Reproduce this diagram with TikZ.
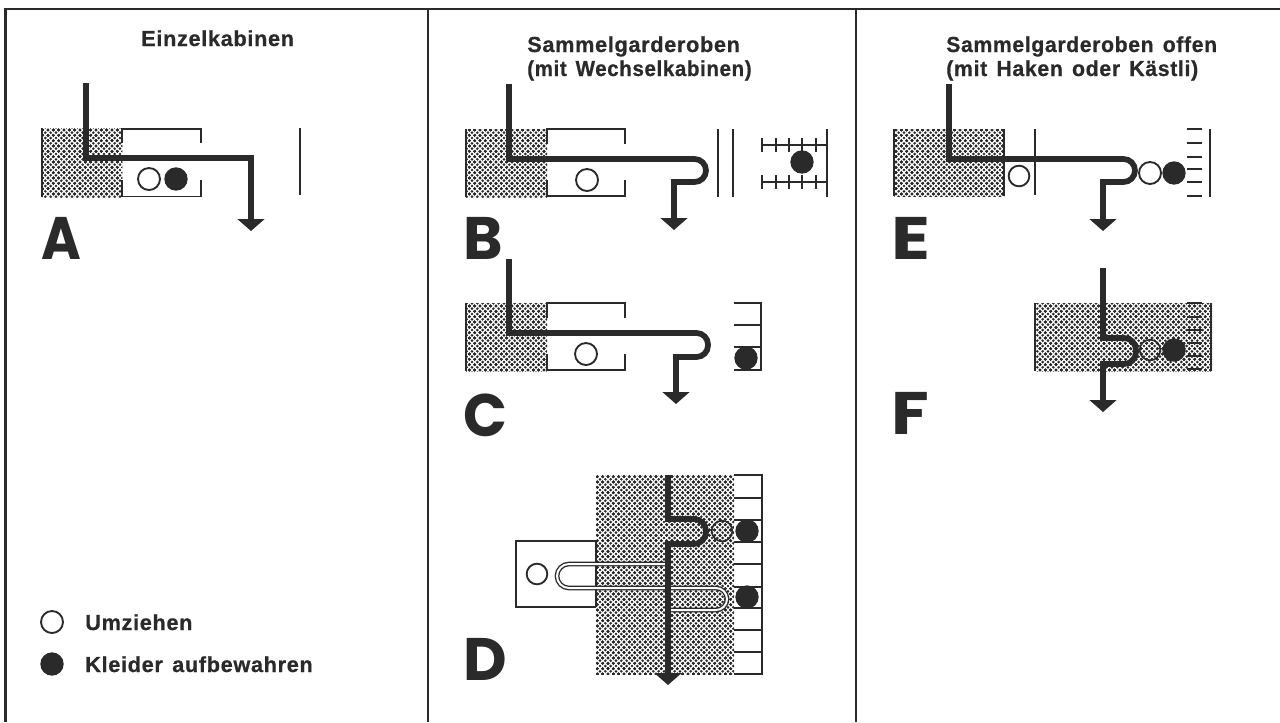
\documentclass[tikz,border=0pt]{standalone}
\usepackage{fontspec}
\setmainfont{Liberation Sans}[LetterSpace=3,WordSpace=1.4,BoldFeatures={FakeBold=0.6}]
\newfontfamily\letterfont{Poppins}[BoldFont={Poppins Bold}]
\usetikzlibrary{arrows.meta,patterns}
\definecolor{ink}{HTML}{2A2A2A}
\pgfdeclarepatternformonly{stip}{\pgfqpoint{-1.5pt}{-1.5pt}}{\pgfqpoint{5.5pt}{5.5pt}}{\pgfqpoint{4pt}{4pt}}{%
  \pgfpathcircle{\pgfqpoint{0pt}{0pt}}{1.1pt}
  \pgfpathcircle{\pgfqpoint{2pt}{2pt}}{1.1pt}
  \pgfpathcircle{\pgfqpoint{4pt}{0pt}}{1.1pt}
  \pgfpathcircle{\pgfqpoint{0pt}{4pt}}{1.1pt}
  \pgfpathcircle{\pgfqpoint{4pt}{4pt}}{1.1pt}
  \pgfusepath{fill}}
\tikzset{
  stipple/.style={pattern=stip,pattern color=ink,draw=none},
  frameline/.style={draw=ink,line width=1.6pt},
  wall/.style={draw=ink,line width=1.3pt,line cap=butt},
  edge line/.style={draw=ink,line width=1.6pt},
  route/.style={draw=ink,line width=4.3pt,line join=miter,-{Triangle[width=20pt,length=9pt]}},
  routeplain/.style={draw=ink,line width=4.3pt,line join=miter},
  dbl/.style={draw=ink,line width=1pt,double=white,double distance=1.5pt},
  opencirc/.style={circle,draw=ink,fill=white,line width=1.4pt,minimum size=16.5pt,inner sep=0pt},
  opencircs/.style={circle,draw=ink,line width=1.2pt,minimum size=15.5pt,inner sep=0pt},
  fullcirc/.style={circle,fill=ink,minimum size=17.5pt,inner sep=0pt},
  title/.style={anchor=base west,inner sep=0pt,font=\bfseries\fontsize{16.3}{18}\selectfont,text=ink},
  panel letter/.style={anchor=base west,inner sep=0pt,font=\letterfont\bfseries\fontsize{45}{45}\selectfont,text=ink},
  x=0.75pt,y=-0.75pt
}
\begin{document}
\begin{tikzpicture}
\useasboundingbox (0,0) rectangle (1280,722);
\fill[white] (0,0) rectangle (1280,722);
% frame
\draw[frameline] (5.5,722) -- (5.5,9) -- (1280,9);
\draw[frameline] (428,9) -- (428,722);
\draw[frameline] (856,9) -- (856,722);
% titles
\node[title] (t1) at (141,46) {Einzelkabinen};
\node[title] (t2) at (527,52) {Sammelgarderoben};
\node[title] (t2b) at (527,76) {\scalebox{0.945}[1]{(mit Wechselkabinen)}};
\node[title] (t3) at (946,52) {\scalebox{0.975}[1]{Sammelgarderoben offen}};
\node[title] (t3b) at (946,76) {\scalebox{0.98}[1]{(mit Haken oder Kästli)}};
% letters
\node[panel letter] (lA) at (41,259) {\scalebox{0.9}[1]{A}};
\node[panel letter] (lB) at (463,259) {B};
\node[panel letter] (lC) at (463,436) {\scalebox{0.96}[1]{C}};
\node[panel letter] (lD) at (463,680) {D};
\node[panel letter] (lE) at (891,259) {\scalebox{1.2}[1]{E}};
\node[panel letter] (lF) at (891,434) {\scalebox{1.15}[1]{F}};
% legend
\node[opencirc] (lego) at (52,622) {};
\node[fullcirc] (legf) at (52,664) {};
\node[title,anchor=base west] (legt1) at (85,630) {Umziehen};
\node[title,anchor=base west] (legt2) at (85,672) {Kleider aufbewahren};

% ---- A
\fill[stipple] (42,128) rectangle (122,197);
\draw[edge line] (42,128) -- (42,197);
\draw[wall] (122,143) -- (122,129) -- (201,129) -- (201,143);
\draw[wall] (122,180) -- (122,196.5) -- (201,196.5) -- (201,180);
\draw[edge line] (300,128) -- (300,195);
\node[opencirc] (Ao) at (149,179) {};
\node[fullcirc] (Af) at (176,179) {};
\draw[route] (86,83) -- (86,158) -- (251,158) -- (251,231);

% ---- B
\fill[stipple] (466,129) rectangle (547,197);
\draw[edge line] (466,129) -- (466,197);
\draw[wall] (547,144) -- (547,129) -- (625,129) -- (625,144);
\draw[wall] (547,180) -- (547,196) -- (625,196) -- (625,180);
\node[opencirc] (Bo) at (587,180) {};
\draw[route] (509,84) -- (509,159) [rounded corners=8.6pt] -- (706,159) -- (706,182) [sharp corners] -- (674,182) -- (674,230);
\draw[edge line] (718,129) -- (718,197);
\draw[edge line] (733,129) -- (733,197);
\draw[edge line] (827,129) -- (827,197);
\draw[wall] (762,145) -- (827,145);
\draw[wall] (762,182) -- (827,182);
\foreach \tx in {762,776,789,802,816}{
  \draw[wall] (\tx,138) -- (\tx,152);
  \draw[wall] (\tx,175) -- (\tx,189);
}
\node[fullcirc] (Bf) at (802,162) {};

% ---- C
\fill[stipple] (466,303) rectangle (547,371);
\draw[edge line] (466,303) -- (466,371);
\draw[wall] (547,318) -- (547,303) -- (625,303) -- (625,318);
\draw[wall] (547,354) -- (547,370) -- (625,370) -- (625,354);
\node[opencirc] (Co) at (586,354) {};
\draw[route] (509,259) -- (509,333) [rounded corners=8.6pt] -- (708,333) -- (708,357) [sharp corners] -- (676,357) -- (676,404);
\draw[wall] (734,303) -- (761,303) -- (761,370) -- (734,370);
\draw[wall] (734,325) -- (761,325);
\draw[wall] (734,347) -- (761,347);
\node[fullcirc] (Cf) at (746,358) {};

% ---- D
\fill[stipple] (596,475) rectangle (734,674);
\draw[wall] (596,541) -- (516,541) -- (516,607) -- (596,607);
\draw[wall] (596,541) -- (596,607);
\draw[wall] (734,475) -- (762,475) -- (762,674) -- (734,674);
\foreach \ry in {498,520,542,564,587,608,630,652}{
  \draw[wall] (734,\ry) -- (762,\ry);
}
\node[opencirc,minimum size=15.5pt] (Do) at (537,574) {};
\draw[dbl] (668,564) [rounded corners=9pt] -- (557,564) -- (557,588) [sharp corners] -- (668,588) [rounded corners=8.2pt] -- (727,588) -- (727,610) [sharp corners] -- (668,610);
\draw[routeplain] (668,475) -- (668,519) [rounded corners=9pt] -- (706,519) -- (706,544) [sharp corners] -- (668,544) -- (668,545);
\draw[route] (668,542) -- (668,685);
\node[opencircs] (Dos) at (722,531) {};
\node[fullcirc] (Df1) at (747,531) {};
\node[fullcirc] (Df2) at (747,597) {};

% ---- E
\fill[stipple] (894,129) rectangle (1004,196);
\draw[edge line] (894,129) -- (894,196);
\draw[wall] (1004,129) -- (1004,196);
\draw[edge line] (1035,129) -- (1035,195);
\node[opencirc,minimum size=15.5pt] (Eo1) at (1019,176) {};
\draw[route] (949,84) -- (949,159) [rounded corners=8.6pt] -- (1135,159) -- (1135,182) [sharp corners] -- (1103,182) -- (1103,231);
\node[opencirc] (Eo2) at (1150,173) {};
\node[fullcirc] (Ef) at (1174,173) {};
\draw[edge line] (1210,129) -- (1210,197);
\foreach \ry in {129,143,156.5,169,182,196}{
  \draw[wall,line width=1.5pt] (1187,\ry) -- (1202,\ry);
}

% ---- F
\fill[stipple] (1035,303) rectangle (1212,371);
\draw[edge line] (1035,303) -- (1035,371);
\draw[edge line] (1211,303) -- (1211,371);
\foreach \ry in {303,317,330,343,356,369}{
  \draw[wall,line width=1.5pt] (1187,\ry) -- (1202,\ry);
}
\draw[routeplain] (1103,268) -- (1103,338) [rounded corners=9pt] -- (1136,338) -- (1136,364) [sharp corners] -- (1103,364) -- (1103,365);
\draw[route] (1103,362) -- (1103,412);
\node[opencircs] (Fo) at (1150,350) {};
\node[fullcirc] (Ff) at (1174,350) {};
\end{tikzpicture}
\end{document}
